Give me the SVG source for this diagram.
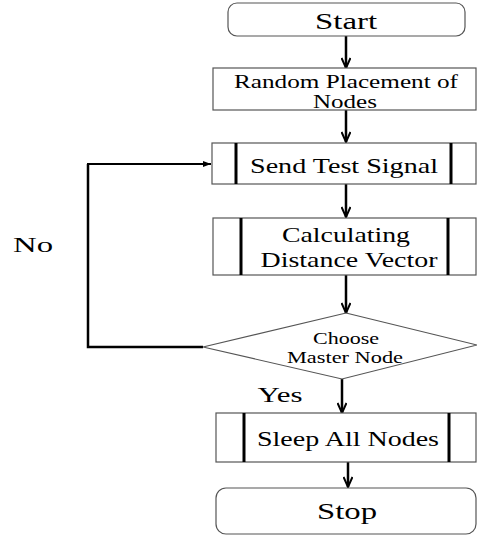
<svg xmlns="http://www.w3.org/2000/svg" width="477" height="536" viewBox="0 0 477 536">
<style>
.box{fill:#fff;stroke:#555;stroke-width:1.2}
.bar{stroke:#000;stroke-width:3}
.t{font-family:"Liberation Serif","Times New Roman",serif;fill:#000;text-anchor:middle}
.con{fill:none;stroke:#000;stroke-width:2.5}
</style>
<defs>
<marker id="ah" viewBox="0 0 12 10" refX="11" refY="5" markerWidth="12" markerHeight="10" markerUnits="userSpaceOnUse" orient="auto">
<path d="M1,0.5 L11,5 L1,9.5" fill="none" stroke="#000" stroke-width="2"/>
</marker>
<marker id="ahs" viewBox="0 0 8 6" refX="8" refY="3" markerWidth="8" markerHeight="6" markerUnits="userSpaceOnUse" orient="auto">
<path d="M0,0 L8,3 L0,6 Z" fill="#000"/>
</marker>
</defs>
<rect width="477" height="536" fill="#fff"/>
<g id="connectors">
<path class="con" d="M346,36 V68" marker-end="url(#ah)"/>
<path class="con" d="M346,110 V142" marker-end="url(#ah)"/>
<path class="con" d="M346,184 V217" marker-end="url(#ah)"/>
<path class="con" d="M346,275 V313" marker-end="url(#ah)"/>
<path class="con" d="M342,379 V413" marker-end="url(#ah)"/>
<path class="con" d="M348,462 V487" marker-end="url(#ah)"/>
<path class="con" d="M203,347 H88 V164" />
<path fill="none" stroke="#000" stroke-width="2" d="M87,164 H211" marker-end="url(#ahs)"/>
</g>
<g id="start">
<rect class="box" x="228" y="3" width="237" height="33" rx="9"/>
<text class="t" x="346" y="29" font-size="24" textLength="62" lengthAdjust="spacingAndGlyphs">Start</text>
</g>
<g id="random">
<rect class="box" x="213" y="68" width="263" height="42"/>
<text class="t" x="346" y="88" font-size="19" textLength="224" lengthAdjust="spacingAndGlyphs">Random Placement of</text>
<text class="t" x="345" y="108" font-size="19" textLength="64" lengthAdjust="spacingAndGlyphs">Nodes</text>
</g>
<g id="send">
<rect class="box" x="212" y="143" width="264" height="41"/>
<line class="bar" x1="236" y1="143" x2="236" y2="184"/>
<line class="bar" x1="451" y1="143" x2="451" y2="184"/>
<text class="t" x="344" y="173" font-size="22" textLength="188" lengthAdjust="spacingAndGlyphs">Send Test Signal</text>
</g>
<g id="calc">
<rect class="box" x="213" y="218" width="263" height="57"/>
<line class="bar" x1="241" y1="218" x2="241" y2="275"/>
<line class="bar" x1="448" y1="218" x2="448" y2="275"/>
<text class="t" x="346" y="242" font-size="22" textLength="128" lengthAdjust="spacingAndGlyphs">Calculating</text>
<text class="t" x="349" y="267" font-size="22" textLength="177" lengthAdjust="spacingAndGlyphs">Distance Vector</text>
</g>
<g id="choose">
<polygon class="box" points="346,313 477,345 342,379 203,347"/>
<text class="t" x="346" y="344" font-size="16" textLength="66" lengthAdjust="spacingAndGlyphs">Choose</text>
<text class="t" x="345" y="363" font-size="16" textLength="116" lengthAdjust="spacingAndGlyphs">Master Node</text>
</g>
<g id="sleep">
<rect class="box" x="216" y="413" width="260" height="49"/>
<line class="bar" x1="244" y1="413" x2="244" y2="462"/>
<line class="bar" x1="449" y1="413" x2="449" y2="462"/>
<text class="t" x="348" y="446" font-size="22" textLength="182" lengthAdjust="spacingAndGlyphs">Sleep All Nodes</text>
</g>
<g id="stop">
<rect class="box" x="216" y="488" width="260" height="46" rx="10"/>
<text class="t" x="347" y="519" font-size="24" textLength="60" lengthAdjust="spacingAndGlyphs">Stop</text>
</g>
<g id="labels">
<text class="t" x="33" y="252" font-size="22" textLength="40" lengthAdjust="spacingAndGlyphs">No</text>
<text class="t" x="280" y="402" font-size="22" textLength="45" lengthAdjust="spacingAndGlyphs">Yes</text>
</g>
</svg>
